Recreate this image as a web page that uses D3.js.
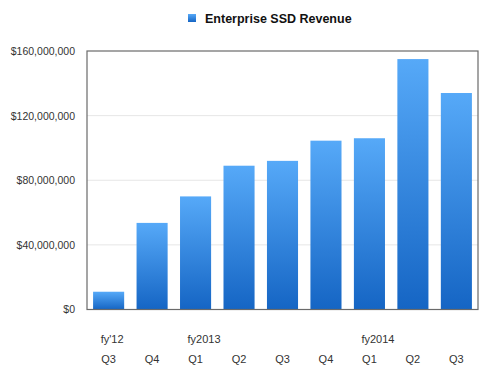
<!DOCTYPE html>
<html>
<head>
<meta charset="utf-8">
<script src="https://cdn.jsdelivr.net/npm/d3@7"></script>
<style>
  body { margin: 0; background: #fff; }
  svg { font-family: "Liberation Sans", Arial, sans-serif; }
</style>
</head>
<body>
<svg id="chart" width="500" height="377"></svg>
<script>
// data
const quarters = ["Q3", "Q4", "Q1", "Q2", "Q3", "Q4", "Q1", "Q2", "Q3"];
const years = ["fy'12", "", "fy2013", "", "", "", "fy2014", "", ""];
const revenue = [11000000, 53600000, 70000000, 89000000, 92000000, 104500000, 106000000, 155000000, 134000000];
const yTicks = [0, 40000000, 80000000, 120000000, 160000000];
const seriesName = "Enterprise SSD Revenue";

const margin = { top: 51, right: 22, bottom: 67.5, left: 87 };
const width = 500 - margin.left - margin.right;
const height = 377 - margin.top - margin.bottom;

const svg = d3.select("#chart");

const defs = svg.append("defs");
const grad = defs.append("linearGradient")
    .attr("id", "barGrad")
    .attr("x1", 0).attr("y1", 0).attr("x2", 0).attr("y2", 1);
grad.append("stop").attr("offset", "0%").attr("stop-color", "#56a9f8");
grad.append("stop").attr("offset", "100%").attr("stop-color", "#1565c4");

const idx = quarters.map((q, i) => i);
const x = d3.scaleBand().domain(idx).range([0, width]).paddingInner(0.285).paddingOuter(0.14);
const y = d3.scaleLinear().domain([0, 160000000]).range([height, 0]);

const g = svg.append("g").attr("transform", `translate(${margin.left},${margin.top})`);

// gridlines
g.selectAll("line.grid")
    .data(yTicks.slice(1, -1))
    .join("line")
    .attr("class", "grid")
    .attr("x1", 0).attr("x2", width)
    .attr("y1", d => y(d)).attr("y2", d => y(d))
    .attr("stroke", "#e6e6e6");

// bars
g.selectAll("rect.bar")
    .data(revenue)
    .join("rect")
    .attr("class", "bar")
    .attr("x", (d, i) => x(i))
    .attr("y", d => y(d))
    .attr("width", x.bandwidth())
    .attr("height", d => height - y(d))
    .attr("fill", "url(#barGrad)");

// frame
g.append("rect")
    .attr("x", 0).attr("y", 0)
    .attr("width", width).attr("height", height)
    .attr("fill", "none")
    .attr("stroke", "#6a6a6a")
    .attr("stroke-width", 1.2);

// y axis
const yAxis = g.append("g")
    .call(d3.axisLeft(y).tickValues(yTicks).tickSize(0).tickPadding(12)
        .tickFormat(d => "$" + d3.format(",")(d)));
yAxis.select(".domain").remove();
yAxis.selectAll("text").attr("fill", "#333").style("font-size", "10.5px");

// x labels: quarter row and fiscal year row
const xAxis = g.append("g")
    .attr("transform", `translate(0,${height})`)
    .call(d3.axisBottom(x).tickSize(0).tickPadding(46).tickFormat(i => quarters[i]));
xAxis.select(".domain").remove();
xAxis.selectAll("text").attr("fill", "#333").style("font-size", "11px");

g.selectAll("text.year")
    .data(years)
    .join("text")
    .attr("class", "year")
    .attr("x", (d, i) => x(i) + x.bandwidth() / 2 - 8)
    .attr("y", height + 33)
    .attr("fill", "#333")
    .style("font-size", "11px")
    .text(d => d);

// legend
const legend = svg.append("g").attr("transform", "translate(188,14)");
legend.append("rect")
    .attr("width", 8).attr("height", 8)
    .attr("fill", "url(#barGrad)");
legend.append("text")
    .attr("x", 17).attr("y", 8.5)
    .attr("fill", "#111")
    .style("font-size", "12.5px")
    .style("font-weight", "bold")
    .text(seriesName);
</script>
</body>
</html>
